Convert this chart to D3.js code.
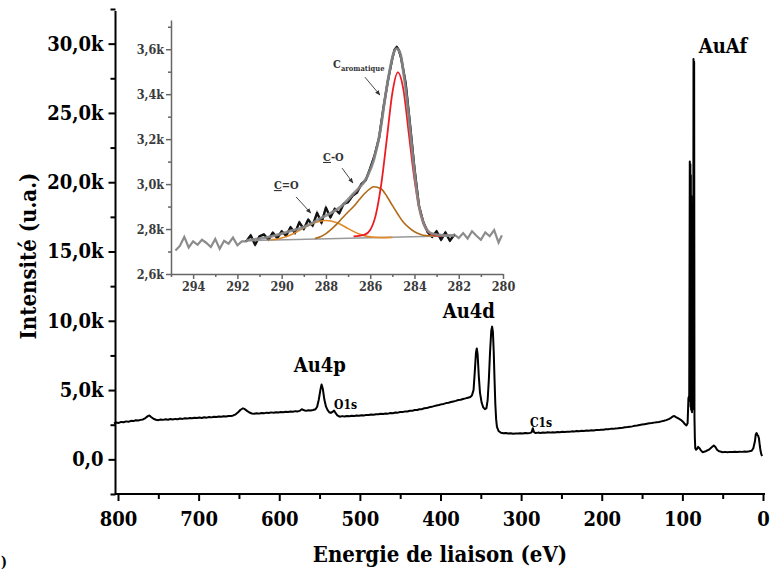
<!DOCTYPE html>
<html><head><meta charset="utf-8">
<script src="https://cdn.jsdelivr.net/npm/d3@7"></script>
<style>
html,body{margin:0;padding:0;background:#fff;}
svg{display:block;}
text{font-family:"DejaVu Serif Condensed","DejaVu Serif",serif;font-stretch:condensed;font-weight:bold;}
</style></head><body>
<svg id="chart" width="770" height="574"></svg>
<script>
// ---------- survey spectrum (binding energy eV, intensity counts) ----------
const surveyEnergy = [805,802,799,796,793,790,787,784,781,778,775,772,769,766,763,761,759,756,753,750,747,744,741,738,735,732,729,726,723,720,717,714,711,708,705,702,699,696,693,690,687,684,681,678,675,672,669,666,663,660,657,654,651,648,645,643,640,637,634,631,628,625,622,619,616,613,610,607,604,601,598,595,592,589,586,583,580,577,574,572,570,567,564,561,558,555,553,551,549,547.5,546,544,542,540,538,536,534,532,530,528,525,522,519,516,513,510,507,504,501,498,495,492,489,486,483,480,477,474,471,468,465,462,459,456,453,450,447,444,441,438,435,432,429,426,423,420,417,414,411,408,405,402,399,396,393,390,387,384,381,378,375,372,369,366,363,361,359,357.5,356,355,354,352.5,351,349,347,345,343,341.5,340,338.5,337,336,335,334,333,332,331,330,328,325,322,319,316,313,310,307,304,301,298,295,292,289,287,285.5,284,282,279,276,273,270,267,264,261,258,255,252,249,246,243,240,237,234,231,228,225,222,219,216,213,210,207,204,201,198,195,192,189,186,183,180,177,174,171,168,165,162,159,156,153,150,147,144,141,138,135,132,129,126,123,120,117,114,112,110,108,105,102,99,97,95,93.5,92.5,91.5,90.8,90.4,90.1,89.8,89.5,89.2,88.9,88.6,88.3,88.0,87.7,87.4,87.1,86.8,86.5,86.2,85.8,85.4,85.0,84.5,84,83,82,80.5,78.5,77,75,72,70,67,64,61,59,57,55,53,50,47,44,41,38,35,32,29,26,23,20,17,14,12,10,9,8,7.5,7,6,5,4,3,2,1,0];
const surveyIntensity = [2600,2660,2630,2700,2680,2740,2710,2780,2760,2820,2800,2850,2880,2980,3120,3160,3060,2930,2860,2830,2880,2850,2890,2860,2910,2880,2920,2900,2950,2920,2960,2940,2980,2960,3000,2980,3020,2990,3040,3010,3060,3030,3080,3050,3090,3070,3110,3090,3130,3120,3170,3250,3400,3580,3680,3640,3500,3380,3310,3290,3330,3300,3350,3320,3370,3340,3390,3360,3400,3380,3420,3400,3440,3420,3460,3440,3480,3460,3520,3620,3560,3500,3540,3530,3560,3620,3800,4300,5000,5400,5100,4300,3800,3550,3400,3350,3420,3520,3330,3180,3080,3120,3090,3130,3110,3150,3130,3170,3150,3190,3170,3210,3200,3240,3220,3260,3250,3290,3270,3310,3300,3340,3330,3380,3370,3420,3410,3460,3450,3510,3500,3560,3560,3620,3620,3690,3700,3760,3790,3840,3880,3920,3970,4000,4060,4090,4140,4180,4220,4280,4300,4360,4400,4450,4500,4620,5000,6300,7700,8000,7600,6000,4800,4100,3750,3620,3700,4300,5800,7800,9300,9580,9200,7800,5800,4000,2900,2350,2050,1920,1880,1900,1860,1880,1850,1870,1860,1890,1870,1900,1880,1910,1950,2250,1960,1900,1930,1910,1940,1920,1950,1930,1960,1940,1970,1960,1990,1970,2000,1990,2020,2010,2040,2030,2060,2050,2080,2070,2100,2090,2120,2110,2140,2140,2170,2170,2200,2200,2230,2240,2270,2280,2310,2330,2360,2380,2420,2440,2480,2510,2540,2570,2600,2620,2650,2680,2700,2740,2780,2830,2900,3000,3100,3130,3050,2950,2850,2700,2550,2450,2600,4400,4600,21500,4200,21300,3800,20500,3600,19000,3500,18000,3400,16500,3600,15000,4000,12000,28900,4500,28700,3000,1500,800,700,750,900,780,650,520,560,620,700,850,1000,900,700,600,560,520,540,520,540,530,550,530,550,540,560,550,580,620,800,1300,1800,1900,1850,1750,1700,1500,1000,600,350,250];

const mainXTicks = [800,700,600,500,400,300,200,100,0];
const mainXMinor = [750,650,550,450,350,250,150,50];
const mainYTicks = [0,5000,10000,15000,20000,25000,30000];
const mainYTickLabels = ["0,0","5,0k","10,0k","15,0k","20,0k","25,0k","30,0k"];
const mainYMinor = [-2500,2500,7500,12500,17500,22500,27500,32500];

const peakLabelText = ["Au4p","O1s","Au4d","C1s","AuAf"];
const peakLabelEnergy = [549.6,532,364.8,289,49.6];
const peakLabelIntensity = [6280,3610,10170,2310,29360];

// ---------- C1s high resolution inset ----------
const rawLeftEnergy = [294.8,294.6,294.4,294.2,294.0,293.8,293.6,293.4,293.2,293.0,292.8,292.6,292.4,292.2,292.0,291.8];
const rawLeftIntensity = [2705,2725,2765,2718,2745,2730,2752,2738,2720,2756,2712,2748,2735,2762,2728,2745];
const rawFitEnergy = [291.6,291.4,291.2,291.0,290.8,290.6,290.4,290.2,290.0,289.8,289.6,289.4,289.2,289.0,288.8,288.6,288.4,288.2,288.0,287.8,287.6,287.4,287.2,287.0,286.8,286.6,286.4,286.2,286.0,285.8,285.6,285.4,285.2,285.0,284.9,284.8,284.7,284.6,284.4,284.2,284.0,283.8,283.6,283.4,283.2,283.0,282.8,282.6,282.4,282.2];
const rawFitIntensity = [2745,2772,2730,2768,2776,2752,2784,2760,2790,2770,2808,2782,2830,2800,2842,2815,2872,2828,2895,2852,2890,2870,2912,2920,2948,2962,3000,3018,3070,3128,3205,3340,3460,3560,3598,3610,3595,3560,3450,3265,3070,2905,2830,2786,2765,2790,2752,2785,2748,2775];
const rawRightEnergy = [282.0,281.8,281.6,281.4,281.2,281.0,280.8,280.6,280.4,280.2,280.05];
const rawRightIntensity = [2760,2782,2758,2790,2770,2752,2785,2768,2795,2740,2772];

const envelopeEnergy = [291.6,291.0,290.5,290.0,289.5,289.14,288.7,288.24,287.8,287.34,286.74,286.14,285.84,285.54,285.32,285.09,284.95,284.82,284.64,284.49,284.27,284.04,283.82,283.59,283.36,283.14,282.8,282.2];
const envelopeIntensity = [2750,2757,2766,2780,2794,2803,2822,2848,2870,2899,2959,3032,3107,3240,3388,3521,3580,3603,3581,3492,3314,3092,2914,2825,2788,2778,2773,2772];

const baselineEnergy = [291.6,282.2];
const baselineIntensity = [2748,2770];

const aromEnergy = [286.75,286.5,286.25,286.0,285.75,285.5,285.25,285.0,284.75,284.5,284.25,284.0,283.75,283.5,283.25,283.0,282.75];
const aromIntensity = [2767,2770,2775,2796,2862,3000,3200,3405,3497,3420,3220,3020,2880,2805,2778,2771,2770];

const coEnergy = [288.5,288.25,288.0,287.75,287.5,287.25,287.0,286.75,286.5,286.25,286.0,285.85,285.5,285.25,285.0,284.75,284.5,284.25,284.0,283.75,283.5,283.0];
const coIntensity = [2758,2766,2780,2800,2823,2850,2876,2900,2930,2958,2980,2988,2978,2946,2905,2866,2830,2806,2788,2777,2771,2769];

const c2oEnergy = [290.5,290.0,289.5,289.0,288.5,288.0,287.5,287.0,286.5,286.0,285.5,285.0];
const c2oIntensity = [2752,2760,2778,2805,2828,2838,2828,2802,2778,2765,2762,2763];

const insetXTicks = [294,292,290,288,286,284,282,280];
const insetXMinor = [295,293,291,289,287,285,283,281];
const insetYTicks = [2600,2800,3000,3200,3400,3600];
const insetYTickLabels = ["2,6k","2,8k","3,0k","3,2k","3,4k","3,6k"];
const insetYMinor = [2700,2900,3100,3300,3500,3700];

const insetLabelEnergy = [290.35,288.13,287.68];
const insetLabelIntensity = [2978,3103,3516];
const arrowFromEnergy = [289.35,287.27,286.24];
const arrowFromIntensity = [2943,3071,3476];
const arrowToEnergy = [288.68,286.78,285.56];
const arrowToIntensity = [2871,3005,3396];

// ---------- drawing ----------
const svg = d3.select("#chart");
const zip = (a,b) => a.map((v,i)=>[v,b[i]]);

const x = d3.scaleLinear().domain([800,0]).range([118,763]);
const y = d3.scaleLinear().domain([-2500,32500]).range([494,9]);

const gx = svg.append("g").attr("transform","translate(0,494)");
gx.call(d3.axisBottom(x).tickValues(mainXTicks).tickFormat(d=>d).tickSize(7).tickSizeOuter(0).tickPadding(7));
gx.append("g").call(d3.axisBottom(x).tickValues(mainXMinor).tickFormat("").tickSize(5).tickSizeOuter(0)).select(".domain").remove();
gx.select(".domain").attr("d","M115.5,0H765");
gx.selectAll("line,path").attr("stroke","#000").attr("stroke-width",2);
gx.selectAll("text").attr("font-size",20).attr("fill","#000").attr("dy","0.9em");

const gy = svg.append("g").attr("transform","translate(115.5,0)");
gy.call(d3.axisLeft(y).tickValues(mainYTicks).tickFormat((d,i)=>mainYTickLabels[i]).tickSize(7).tickSizeOuter(0).tickPadding(5));
gy.append("g").call(d3.axisLeft(y).tickValues(mainYMinor).tickFormat("").tickSize(5).tickSizeOuter(0)).select(".domain").remove();
gy.select(".domain").attr("d","M0,11V495");
gy.selectAll("line,path").attr("stroke","#000").attr("stroke-width",2);
gy.selectAll("text").attr("font-size",20).attr("fill","#000");

const mainLine = d3.line().x(d=>x(d[0])).y(d=>y(d[1]));
svg.append("path").datum(zip(surveyEnergy,surveyIntensity))
  .attr("d",mainLine).attr("fill","none").attr("stroke","#000").attr("stroke-width",2).attr("stroke-linejoin","round");

const labelSizes = [20,12,20,12,20];
const labelAnchor = ["middle","start","middle","start","middle"];
svg.selectAll("text.peak").data(peakLabelText).enter().append("text").attr("class","peak")
  .attr("x",(d,i)=>x(peakLabelEnergy[i])).attr("y",(d,i)=>y(peakLabelIntensity[i]))
  .attr("text-anchor",(d,i)=>labelAnchor[i]).attr("font-size",(d,i)=>labelSizes[i]).attr("fill","#000").text(d=>d);

svg.append("text").attr("x",440).attr("y",562).attr("text-anchor","middle").attr("font-size",22).text("Energie de liaison (eV)");
svg.append("text").attr("transform","translate(36,256) rotate(-90)").attr("text-anchor","middle").attr("font-size",22).text("Intensité (u.a.)");
svg.append("text").attr("x",1).attr("y",567).attr("font-size",14).text(")");

// ---------- inset ----------
const xi = d3.scaleLinear().domain([295,280]).range([171,503]);
const yi = d3.scaleLinear().domain([2600,3730]).range([274,20]);
const axisCol = "#666";

const gix = svg.append("g").attr("transform","translate(0,274)");
gix.call(d3.axisBottom(xi).tickValues(insetXTicks).tickFormat(d=>d).tickSize(5).tickSizeOuter(0).tickPadding(3));
gix.append("g").call(d3.axisBottom(xi).tickValues(insetXMinor).tickFormat("").tickSize(3).tickSizeOuter(0)).select(".domain").remove();
gix.selectAll("line,path").attr("stroke",axisCol).attr("stroke-width",1.5);
gix.selectAll("text").attr("font-size",12.5).attr("fill","#3a3a3a");

const giy = svg.append("g").attr("transform","translate(171,0)");
giy.call(d3.axisLeft(yi).tickValues(insetYTicks).tickFormat((d,i)=>insetYTickLabels[i]).tickSize(5).tickSizeOuter(0).tickPadding(2));
giy.append("g").call(d3.axisLeft(yi).tickValues(insetYMinor).tickFormat("").tickSize(3).tickSizeOuter(0)).select(".domain").remove();
giy.selectAll("line,path").attr("stroke",axisCol).attr("stroke-width",1.5);
giy.selectAll("text").attr("font-size",12.5).attr("fill","#3a3a3a");

const inLine = d3.line().x(d=>xi(d[0])).y(d=>yi(d[1]));
const smooth = d3.line().x(d=>xi(d[0])).y(d=>yi(d[1])).curve(d3.curveMonotoneX);
const rawAll = zip(rawLeftEnergy,rawLeftIntensity).concat(zip(rawFitEnergy,rawFitIntensity),zip(rawRightEnergy,rawRightIntensity));
svg.append("path").datum(rawAll).attr("d",inLine).attr("fill","none").attr("stroke","#8c8c8c").attr("stroke-width",2.2);
svg.append("path").datum(zip(rawFitEnergy,rawFitIntensity)).attr("d",inLine).attr("fill","none").attr("stroke","#111").attr("stroke-width",2.3).attr("stroke-linejoin","round");
svg.append("path").datum(zip(baselineEnergy,baselineIntensity)).attr("d",inLine).attr("fill","none").attr("stroke","#999").attr("stroke-width",1.5);
svg.append("path").datum(zip(c2oEnergy,c2oIntensity)).attr("d",smooth).attr("fill","none").attr("stroke","#e08a2a").attr("stroke-width",1.6);
svg.append("path").datum(zip(coEnergy,coIntensity)).attr("d",smooth).attr("fill","none").attr("stroke","#b06a18").attr("stroke-width",1.6);
svg.append("path").datum(zip(aromEnergy,aromIntensity)).attr("d",smooth).attr("fill","none").attr("stroke","#ec1c24").attr("stroke-width",1.8);
svg.append("path").datum(zip(envelopeEnergy,envelopeIntensity)).attr("d",smooth).attr("fill","none").attr("stroke","#8a8a8a").attr("stroke-width",2.8).attr("stroke-opacity",0.9);

// inset annotations
const defs = svg.append("defs");
defs.append("marker").attr("id","ah").attr("viewBox","0 0 10 10").attr("refX",9).attr("refY",5)
  .attr("markerWidth",6).attr("markerHeight",6).attr("orient","auto")
  .append("path").attr("d","M0,1L10,5L0,9Z").attr("fill","#333");
arrowFromEnergy.forEach((e,i)=>{
  svg.append("line").attr("x1",xi(e)).attr("y1",yi(arrowFromIntensity[i]))
    .attr("x2",xi(arrowToEnergy[i])).attr("y2",yi(arrowToIntensity[i]))
    .attr("stroke","#333").attr("stroke-width",0.9).attr("marker-end","url(#ah)");
});
const t0 = svg.append("text").attr("x",xi(insetLabelEnergy[0])).attr("y",yi(insetLabelIntensity[0])).attr("font-size",11).attr("fill","#333");
t0.append("tspan").attr("text-decoration","underline").text("C");
t0.append("tspan").text("=O");
const t1 = svg.append("text").attr("x",xi(insetLabelEnergy[1])).attr("y",yi(insetLabelIntensity[1])).attr("font-size",11).attr("fill","#333");
t1.append("tspan").attr("text-decoration","underline").text("C");
t1.append("tspan").text("-O");
const t2 = svg.append("text").attr("x",xi(insetLabelEnergy[2])).attr("y",yi(insetLabelIntensity[2])).attr("font-size",11).attr("fill","#333");
t2.append("tspan").text("C");
t2.append("tspan").attr("font-size",7.5).attr("dy",3).text("aromatique");
</script>
</body></html>
